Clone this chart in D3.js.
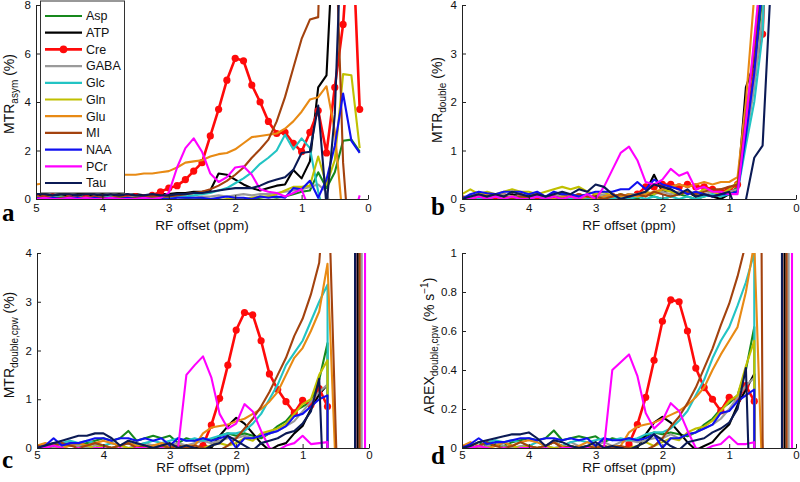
<!DOCTYPE html>
<html>
<head>
<meta charset="utf-8">
<script src="https://cdn.jsdelivr.net/npm/d3@7/dist/d3.min.js"></script>
<style>
  body { margin: 0; background: #fff; }
  svg { display: block; font-family: "Liberation Sans", Arial, Helvetica, sans-serif; }
</style>
</head>
<body>
<svg id="chart" width="800" height="482"></svg>
<script>
// RF offsets (ppm), shared by all four panels
const ppm = [5, 4.875, 4.75, 4.625, 4.5, 4.375, 4.25, 4.125, 4, 3.875, 3.75, 3.625, 3.5, 3.375, 3.25, 3.125,
  3, 2.875, 2.75, 2.625, 2.5, 2.375, 2.25, 2.125, 2, 1.875, 1.75, 1.625, 1.5, 1.375, 1.25, 1.125,
  1, 0.875, 0.75, 0.625, 0.5, 0.375, 0.25, 0.125, 0];

const metabolites = ["Asp", "ATP", "Cre", "GABA", "Glc", "Gln", "Glu", "MI", "NAA", "PCr", "Tau"];
const colors = ["#16881c", "#000000", "#ff0a0a", "#9a9a9a", "#22c4c4", "#c0c000", "#e88a14", "#a3420e", "#1010f0", "#ff00ff", "#0b1a55"];
const xTicks = [5, 4, 3, 2, 1, 0];

// panel a : MTR asym (%)
const asymAsp = [0.05,0.1,0.05,0.15,0.1,0.05,0.1,0.05, 0.1,0.05,0.1,0.05,0,0.05,0,0.05, 0,-0.05,0,0.05,0,-0.05,0,-0.1, -0.05,-0.05,0,0.05,0.1,0.05,0.1,0.2, 0.3,0.35,1.1,0.45,1.1,2.4,2.45,1.95,null];
const asymATP = [0.15,0.2,0.15,0.2,0.15,0.2,0.2,0.15, 0.2,0.15,0.2,0.15,0.2,0.15,0.15,0.2, 0.2,0.25,0.25,0.3,0.3,0.35,1.05,1.0, 0.8,0.6,0.45,0.35,0.45,0.55,0.6,1.2, 0.85,1.55,4.6,5.1,12,12,12,12,null];
const asymCre = [0.1,0.05,0.1,0,0.05,0,0.05,0, 0.05,0,0.05,0.1,0.1,0.05,0.15,0.3, 0.45,0.55,0.8,1.15,1.5,2.6,3.7,4.9, 5.8,5.7,4.7,4.0,3.2,2.7,2.75,2.3, 1.95,2.75,3.65,1.9,4.6,7.2,12,3.7,null];
const asymGABA = [0.1,0.05,0.1,0.05,0.1,0.05,0.05,0.1, 0.05,0.1,0.05,0.05,0.1,0.05,0.05,0.1, 0.05,0.1,0.1,0.05,0.1,0.1,0.15,0.1, 0.15,0.2,0.15,0.2,0.2,0.25,0.3,0.35, 0.4,0.5,0.6,0.3,-1,-1,-1,-1,null];
const asymGlc = [0.05,0,0.05,0.1,0.05,0,0.05,0, 0.05,0.1,0.05,0,0.05,0,0.05,0.05, 0.05,0.1,0.1,0.15,0.2,0.25,0.35,0.45, 0.65,0.85,1.1,1.45,1.7,2.0,2.65,2.05, 2.5,2.1,0.3,-1,-1,-1,-1,-1,null];
const asymGln = [0.05,0.1,0,0.05,0,0.05,0,0.05, 0,0.05,0.1,0.05,0,-0.05,0,-0.05, -0.1,-0.1,-0.1,-0.05,-0.1,-0.1,-0.05,0, 0.05,0,0.05,0.1,0.1,0.2,0.35,0.5, 0.5,0.55,1.75,0.6,1.6,5.15,5.1,2.1,null];
const asymGlu = [0.6,0.65,0.7,0.75,0.8,0.85,0.9,0.9, 0.95,0.95,1.0,1.0,1.0,1.05,1.05,1.1, 1.15,1.3,1.5,1.55,1.6,1.75,1.85,1.9, 2.05,2.3,2.55,2.6,2.65,2.7,2.9,3.2, 3.6,4.1,4.2,4.65,2.8,-1,-1,-1,null];
const asymMI = [0.05,0.1,0.05,0.05,0.1,0.05,0.05,0.1, 0.05,0.05,0.1,0.05,0.05,0.1,0.1,0.1, 0.1,0.15,0.2,0.25,0.3,0.4,0.55,0.75, 1.0,1.3,1.7,2.05,2.45,3.2,4.2,5.4, 6.6,7.4,7.5,20,12,1.5,-3,-3,null];
const asymNAA = [0.05,0,0.05,0,0.05,0.05,0,0.05, 0,0.05,0,0.05,0,0.05,0,0, 0,0.05,0.05,0.05,0.05,0,0.05,0.1, 0.05,0.05,0,0.1,0.05,0.1,0.05,0.45, 0.4,0.75,0.05,0.8,2.2,4.35,2.4,1.9,null];
const asymPCr = [0,0.05,0,0,0.05,0,0.05,0, 0,0.05,0,0,0,0.05,0,0.05, 0.25,1.3,2.1,2.5,1.95,1.05,0.7,0.9, 1.3,1.35,1.0,0.4,0.3,0.25,0.1,0.25, 0.4,-0.5,-1,-1,-1,-1,-1,0.15,null];
const asymTau = [0.2,0.2,0.15,0.2,0.2,0.15,0.2,0.2, 0.15,0.2,0.15,0.2,0.15,0.15,0.2,0.15, 0.15,0.2,0.2,0.25,0.25,0.3,0.35,0.4, 0.45,0.45,0.45,0.55,0.7,0.8,0.9,1.2, 1.9,1.95,3.85,-0.3,3.5,13,13,13,null];

// panel b : MTR double (%)
const dblAsp = [0.05,0,0.05,0.1,0.05,0,0.05,0.1, 0.05,0,0.05,0,0.05,0.1,0.05,0, 0.05,0,0.05,0.1,0.05,0,0.1,0.05, 0,0.05,0.1,0.05,0,0.05,0.1,0.05, 0.1,0.25,1.4,2.6,4.2,8,8,8,null];
const dblATP = [0,0.05,0.1,0.05,0.1,0.05,0.1,0.05, 0.1,0.05,0,0.05,0.1,0.05,0,0.05, 0,0.05,0.1,0.05,0.1,0.1,0.15,0.5, 0.15,0.2,0.1,0.15,0.05,0.1,0.05,0, 0.1,0.2,2.3,2.8,4.8,8,8,8,null];
const dblCre = [0,0,0.05,0,0,0.05,0,0.05, 0,0.05,0,0.05,0,0.05,0.05,0, 0.05,0,0.05,0,0,0.1,0.25,0.25, 0.3,0.3,0.25,0.3,0.25,0.25,0.2,0.15, 0.2,0.3,1.5,2.6,3.4,8,8,8,null];
const dblGABA = [0.05,0.05,0.1,0.05,0.05,0.1,0.05,0.05, 0.1,0.05,0.05,0.1,0.05,0.05,0.1,0.05, 0.05,0.1,0.05,0.05,0.1,0.1,0.15,0.1, 0.15,0.1,0.15,0.1,0.15,0.1,0.15,0.1, 0.15,0.2,1.2,2.3,3.8,8,8,8,null];
const dblGlc = [0,0.05,0,0,0.05,0,0,0.05, 0,0.05,0,0,0.05,0,0.05,0, 0,0.05,0,0.05,0,0.05,0,0.05, 0,0.05,0,0.05,0,0.05,0.1,0.05, 0.1,0.15,1.1,2.0,3.4,8,8,8,null];
const dblGln = [0.1,0.2,0.1,0.15,0.1,0.15,0.2,0.15, 0.15,0.1,0.15,0.2,0.25,0.2,0.25,0.15, 0.1,0.15,0.05,0.1,0.05,0.1,0.15,0.1, 0.2,0.15,0.1,0.15,0.1,0.2,0.15,0.1, 0.2,0.35,1.6,3.2,5,8,8,8,null];
const dblGlu = [0.05,0,0.05,0.1,0.05,0,0.05,0, 0.05,0.1,0.05,0,0.05,0.05,0,0.05, 0,0.05,0.1,0.05,0.1,0.05,0.1,0.15, 0.2,0.25,0.3,0.25,0.3,0.35,0.3,0.35, 0.35,0.45,2.0,4.2,6,8,8,8,null];
const dblMI = [0.05,0,0.05,0.05,0.1,0.05,0,0.05, 0.05,0.1,0.05,0.05,0,0.05,0.1,0.05, 0.05,0,0.05,0.1,0.05,0.1,0.05,0.15, 0.1,0.05,0.1,0.15,0.1,0.15,0.2,0.2, 0.25,0.3,1.7,3.0,5,8,8,8,null];
const dblNAA = [0,0.1,0.15,0.12,0.1,0.15,0.15,0.15, 0.1,0.15,0.05,0.15,0.1,0.1,0.05,0.1, 0.15,0.15,0.15,0.2,0.2,0.35,0.2,0.4, 0.3,0.25,0.2,0.1,0.15,0.1,0.05,0.1, 0.1,0.15,1.3,2.6,4.5,8,8,8,null];
const dblPCr = [0,0,0.05,0,0.05,0,0.05,0, 0,0.05,0,0.05,0,0.05,0,0.1, 0,0.25,0.6,0.95,1.08,0.8,0.35,0.3, 0.4,0.62,0.48,0.55,0.2,0.25,0.15,0.15, 0.1,0.1,1.6,3.3,5,8,8,8,null];
const dblTau = [0,0.05,0.1,0.05,0.1,0.05,0.15,0.1, 0.05,0.1,0.05,0.1,0.15,0.1,0.2,0.15, 0.3,0.25,0.1,0,0.05,0.1,0.15,0.3, 0.25,0.2,0.1,0.2,0.05,0.1,0.05,0.1, 0.15,-0.3,-0.02,0.85,1.1,4.5,8,8,null];

// panel c : MTR double,cpw (%)
const cpwAsp = [0,0.05,0.1,0.05,0.1,0.05,0.1,0.15, 0.2,0.15,0.2,0.35,0.15,0.2,0.25,0.2, 0.25,0.1,0.2,0.15,0.2,0.15,0.25,0.3, 0.25,0.3,0.25,0.2,0.3,0.45,0.55,0.75, 0.85,0.95,1.4,2.15,-100,-100,-1000,1500,1000];
const cpwATP = [0.05,0,0.05,0.1,0.05,0.1,0.05,0, 0.05,0,0.05,0.1,0.05,0,0.05,0, 0.05,0,0.05,0,0.05,0,0.25,0.45, 0.62,0.5,0.3,0.1,-0.05,0.05,0.1,0.3, 0.45,0.8,1.1,1.3,-100,-100,-1000,562,1000];
const cpwCre = [0,0.02,-0.02,-0.2,-0.1,-0.2,-0.03,-0.2, -0.2,-0.3,-0.2,-0.3,-0.2,-0.3,-0.2,-0.3, -0.2,-0.2,-0.1,-0.2,0.05,0.47,1.02,1.7, 2.42,2.78,2.73,2.2,1.52,1.2,0.95,0.72, 0.98,0.88,1.22,0.85,-100,-100,-1000,1500,1000];
const cpwGABA = [0,0.05,0,0.05,0.1,0.05,0,0.05, 0.05,0,0.05,0,0.05,0.1,0.05,0, 0.05,0.1,0.05,0.1,0.15,0.1,0.15,0.2, 0.2,0.25,0.2,0.25,0.3,0.35,0.45,0.55, 0.75,0.95,1.15,1.3,-100,-100,-1000,-136,1000];
const cpwGlc = [0.05,0,0.05,0.1,0.15,0.1,0.15,0.1, 0.05,0.1,0.05,0.1,0.05,0.1,0.15,0.1, 0.15,0.2,0.15,0.2,0.15,0.2,0.25,0.3, 0.3,0.35,0.5,0.7,1.0,1.3,1.7,1.95, 2.2,2.6,3.0,3.35,-100,-100,-1000,1500,1000];
const cpwGln = [0.05,0,0.05,0,0.05,0.1,0.05,0, 0.05,0,0.05,0,0,0.05,0,0.05, 0,0.05,0,-0.05,0,0.05,0.1,0.05, 0.1,0.2,0.15,0.3,0.35,0.4,0.5,0.7, 0.9,1.0,1.5,1.8,-100,-100,-1000,1500,1000];
const cpwGlu = [0.05,0.1,0.05,0,0.05,0.1,0.05,0.1, 0.15,0.1,0.05,0.1,0.05,0,0.05,0.1, 0.05,0,0.05,0.05,0.3,0.42,0.45,0.48, 0.55,0.6,0.7,0.8,0.95,1.15,1.5,1.85, 2.05,2.4,2.8,3.78,-0.5,-100,-1000,1500,1000];
const cpwMI = [0.05,0,0.05,0.1,0.05,0,0.05,0.1, 0.05,0,0.05,0.1,0,0.05,0,0.05, 0,0.05,0,0.05,0,-0.05,-0.05,0.05, 0.2,0.4,0.6,0.85,1.15,1.5,1.85,2.3, 2.65,3.15,3.8,6,0.3,-5,-1000,136,1000];
const cpwNAA = [0,0.05,0.2,0.05,0.1,0.1,0.15,0.2, 0.2,0.15,0.2,0.2,0.15,0.2,0.15,0.2, 0.05,0.2,0.15,0.15,0.2,0.15,0.2,0.25, 0,0.2,0.2,0.25,0.3,0.35,0.45,0.65, 0.7,0.85,1.0,1.08,-100,-100,-1000,1778,1000];
const cpwPCr = [0,0,0.05,0,-0.05,0,-0.05,0, 0,-0.05,0,-0.05,0,0,-0.05,0, -0.05,0,1.5,1.7,1.88,1.45,0.7,0.4, 0.5,0.9,0.75,0.35,0,-0.05,0.05,0.1, 0.25,0.08,0.1,0.12,-100,-100,-1000,-1083,1000];
const cpwTau = [0,0.05,0.1,0.15,0.2,0.25,0.25,0.3, 0.3,0.2,0.05,0.15,0.1,0.05,0,0.05, 0.1,0,0.05,0,-0.05,0.05,0.1,0.25, 0.15,0.05,-0.05,0.1,0.15,0.2,0.3,0.35, 0.5,0.75,1.42,-3,-100,-100,-1000,2125,1000];

// panel d : AREX double,cpw (% s^-1)
const arexAsp = [0,0.01,0.03,0.01,0.02,0.01,0.03,0.04, 0.05,0.04,0.05,0.09,0.04,0.05,0.06,0.05, 0.06,0.03,0.05,0.04,0.05,0.04,0.06,0.08, 0.07,0.08,0.07,0.06,0.08,0.12,0.15,0.2, 0.23,0.27,0.4,0.62,-100,-100,-1000,1500,1000];
const arexATP = [0.01,0,0.01,0.03,0.01,0.03,0.01,0, 0.01,0,0.01,0.03,0.01,0,0.01,0, 0.01,0,0.01,0,0.01,0,0.07,0.13, 0.16,0.13,0.08,0.03,-0.01,0.01,0.03,0.08, 0.12,0.22,0.3,0.38,-100,-100,-1000,562,1000];
const arexCre = [0,0.01,-0.01,-0.05,-0.03,-0.05,-0.01,-0.05, -0.05,-0.08,-0.05,-0.08,-0.05,-0.08,-0.05,-0.08, -0.05,-0.05,-0.03,-0.05,0.02,0.12,0.26,0.45, 0.65,0.76,0.75,0.6,0.41,0.31,0.25,0.19, 0.26,0.25,0.32,0.24,-100,-100,-1000,1500,1000];
const arexGABA = [0,0.01,0,0.01,0.03,0.01,0,0.01, 0.01,0,0.01,0,0.01,0.03,0.01,0, 0.01,0.03,0.01,0.03,0.04,0.03,0.04,0.05, 0.05,0.07,0.05,0.07,0.08,0.1,0.12,0.15, 0.2,0.26,0.32,0.36,-100,-100,-1000,-136,1000];
const arexGlc = [0.01,0,0.01,0.03,0.04,0.03,0.04,0.03, 0.01,0.03,0.01,0.03,0.01,0.03,0.04,0.03, 0.04,0.05,0.04,0.05,0.04,0.05,0.07,0.08, 0.08,0.1,0.14,0.19,0.27,0.35,0.46,0.55, 0.62,0.73,0.85,1.0,-100,-100,-1000,1500,1000];
const arexGln = [0.01,0,0.01,0,0.01,0.03,0.01,0, 0.01,0,0.01,0,0,0.01,0,0.01, 0,0.01,0,-0.01,0,0.01,0.03,0.01, 0.03,0.05,0.04,0.08,0.1,0.11,0.14,0.19, 0.24,0.27,0.42,0.55,-100,-100,-1000,1500,1000];
const arexGlu = [0.01,0.03,0.01,0,0.01,0.03,0.01,0.03, 0.04,0.03,0.01,0.03,0.01,0,0.01,0.03, 0.01,0,0.01,0.01,0.08,0.11,0.12,0.13, 0.15,0.17,0.19,0.22,0.26,0.31,0.4,0.48, 0.55,0.62,0.8,1.05,-0.2,-100,-1000,1500,1000];
const arexMI = [0.01,0,0.01,0.03,0.01,0,0.01,0.03, 0.01,0,0.01,0.03,0,0.01,0,0.01, 0,0.01,0,0.01,0,-0.01,-0.01,0.01, 0.05,0.11,0.16,0.23,0.31,0.41,0.51,0.63, 0.74,0.88,1.05,8,0.05,-2,-1000,136,1000];
const arexNAA = [0,0.02,0.05,0.02,0.03,0.03,0.04,0.05, 0.05,0.04,0.05,0.05,0.04,0.05,0.04,0.05, 0.01,0.05,0.04,0.04,0.05,0.04,0.05,0.07, 0,0.05,0.05,0.07,0.08,0.1,0.12,0.18, 0.19,0.24,0.27,0.3,-100,-100,-1000,1778,1000];
const arexPCr = [0,0,0.01,0,-0.01,0,-0.01,0, 0,-0.01,0,-0.01,0,0,-0.01,0, -0.01,0,0.4,0.44,0.48,0.37,0.18,0.1, 0.14,0.23,0.19,0.09,0,-0.01,0.01,0.02, 0.06,0.02,0.02,0.03,-100,-100,-1000,-1083,1000];
const arexTau = [0,0.01,0.03,0.04,0.05,0.06,0.07,0.07, 0.08,0.05,0.01,0.04,0.03,0.01,0,0.01, 0.03,0,0.01,0,-0.01,0.01,0.03,0.07, 0.04,0.01,-0.01,0.03,0.04,0.05,0.08,0.1, 0.13,0.2,0.41,-1,-100,-100,-1000,2125,1000];

const panels = [
  { letter: "a", left: 36, right: 368, top: 5, bottom: 199, yMax: 8, yTicks: [0, 2, 4, 6, 8],
    series: [asymAsp, asymATP, asymCre, asymGABA, asymGlc, asymGln, asymGlu, asymMI, asymNAA, asymPCr, asymTau],
    label: [["MTR", 0], ["asym", 1], [" (%)", 0]], labelX: 14, labelY: 94, letterX: 2, letterY: 221,
    tickPad: 5, titleOff: 31, legend: true },
  { letter: "b", left: 462, right: 796, top: 5, bottom: 199, yMax: 4, yTicks: [0, 1, 2, 3, 4],
    series: [dblAsp, dblATP, dblCre, dblGABA, dblGlc, dblGln, dblGlu, dblMI, dblNAA, dblPCr, dblTau],
    label: [["MTR", 0], ["double", 1], [" (%)", 0]], labelX: 442, labelY: 100, letterX: 431, letterY: 215,
    tickPad: 5, titleOff: 31 },
  { letter: "c", left: 37, right: 369, top: 253, bottom: 448, yMax: 4, yTicks: [0, 1, 2, 3, 4],
    series: [cpwAsp, cpwATP, cpwCre, cpwGABA, cpwGlc, cpwGln, cpwGlu, cpwMI, cpwNAA, cpwPCr, cpwTau],
    label: [["MTR", 0], ["double,cpw", 1], [" (%)", 0]], labelX: 14, labelY: 345, letterX: 2, letterY: 468,
    tickPad: 3, titleOff: 24 },
  { letter: "d", left: 462, right: 796, top: 253, bottom: 448, yMax: 1, yTicks: [0, 0.2, 0.4, 0.6, 0.8, 1],
    series: [arexAsp, arexATP, arexCre, arexGABA, arexGlc, arexGln, arexGlu, arexMI, arexNAA, arexPCr, arexTau],
    label: [["AREX", 0], ["double,cpw", 1], [" (% s", 0], ["\u22121", -1], [")", 0]], labelX: 434, labelY: 346, letterX: 431, letterY: 464,
    tickPad: 3, titleOff: 24 }
];

const svg = d3.select("#chart");

panels.forEach((p) => {
  const x = d3.scaleLinear().domain([5, 0]).range([p.left, p.right]);
  const y = d3.scaleLinear().domain([0, p.yMax]).range([p.bottom, p.top]);
  const g = svg.append("g");

  // clip to the axes box
  const clipId = "clip-" + p.letter;
  svg.append("clipPath").attr("id", clipId)
    .append("rect")
    .attr("x", p.left).attr("y", p.top)
    .attr("width", p.right - p.left).attr("height", p.bottom - p.top);

  const plot = g.append("g").attr("clip-path", `url(#${clipId})`);
  const line = d3.line()
    .defined((d) => d[1] != null)
    .x((d) => x(d[0]))
    .y((d) => y(d[1]));

  p.series.forEach((vals, si) => {
    const pts = ppm.map((o, i) => [o, vals[i]]);
    const isCre = metabolites[si] === "Cre";
    plot.append("path")
      .attr("d", line(pts))
      .attr("fill", "none")
      .attr("stroke", colors[si])
      .attr("stroke-width", isCre ? 2.6 : 2.1)
      .attr("stroke-linejoin", "round");
    if (isCre) {
      plot.selectAll(null)
        .data(pts.filter((d) => d[1] != null && Math.abs(d[1]) < 50))
        .enter()
        .append("circle")
        .attr("cx", (d) => x(d[0]))
        .attr("cy", (d) => y(d[1]))
        .attr("r", 3.6)
        .attr("fill", colors[si]);
    }
  });

  // axes (MATLAB style, ticks inward, no box)
  g.append("g")
    .attr("transform", `translate(0,${p.bottom})`)
    .call(d3.axisBottom(x).tickValues(xTicks).tickFormat(d3.format("d")).tickSizeInner(-4).tickSizeOuter(0).tickPadding(p.tickPad))
    .call((a) => a.selectAll("text").attr("font-size", 11.5).attr("fill", "#111"));
  g.append("g")
    .attr("transform", `translate(${p.left},0)`)
    .call(d3.axisLeft(y).tickValues(p.yTicks).tickFormat((d) => String(d)).tickSizeInner(-4).tickSizeOuter(0).tickPadding(5))
    .call((a) => a.selectAll("text").attr("font-size", 11.5).attr("fill", "#111"));
  g.selectAll(".domain").attr("stroke", "#222").attr("stroke-width", 1);
  g.selectAll(".tick line").attr("stroke", "#222");

  // x label
  g.append("text")
    .attr("x", (p.left + p.right) / 2)
    .attr("y", p.bottom + p.titleOff)
    .attr("text-anchor", "middle")
    .attr("font-size", 13.5)
    .attr("fill", "#111")
    .text("RF offset (ppm)");

  // y label with sub/superscripts
  const yl = g.append("text")
    .attr("transform", `translate(${p.labelX},${p.labelY}) rotate(-90)`)
    .attr("text-anchor", "middle")
    .attr("font-size", 14)
    .attr("fill", "#111");
  let shift = 0;
  p.label.forEach(([txt, kind]) => {
    const target = kind === 1 ? 4 : kind === -1 ? -6 : 0;
    yl.append("tspan")
      .attr("dy", target - shift)
      .attr("font-size", kind === 0 ? 14 : 10)
      .text(txt);
    shift = target;
  });

  // panel letter
  svg.append("text")
    .attr("x", p.letterX)
    .attr("y", p.letterY)
    .attr("font-family", "'Liberation Serif', 'DejaVu Serif', serif")
    .attr("font-weight", "bold")
    .attr("font-size", 25)
    .text(p.letter);

  // legend (panel a only)
  if (p.legend) {
    const lg = g.append("g");
    const rowH = 16.7;
    lg.append("rect")
      .attr("x", 40.5).attr("y", 1)
      .attr("width", 84).attr("height", 192)
      .attr("fill", "#fff").attr("stroke", "#333").attr("stroke-width", 1);
    metabolites.forEach((m, i) => {
      const cy = 16 + i * rowH;
      lg.append("line")
        .attr("x1", 45).attr("x2", 82).attr("y1", cy).attr("y2", cy)
        .attr("stroke", colors[i]).attr("stroke-width", m === "Cre" ? 2.6 : 2.2);
      if (m === "Cre") {
        lg.append("circle").attr("cx", 63.5).attr("cy", cy).attr("r", 3.8).attr("fill", colors[i]);
      }
      lg.append("text")
        .attr("x", 86).attr("y", cy + 4.3)
        .attr("font-size", 12.5).attr("fill", "#111")
        .text(m);
    });
  }
});
</script>
</body>
</html>
